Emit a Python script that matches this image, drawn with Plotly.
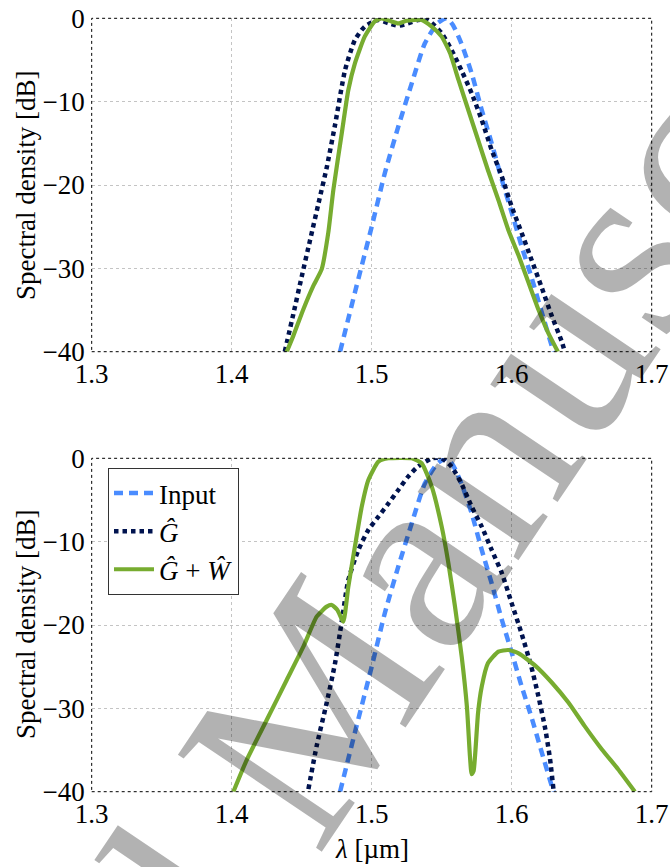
import plotly.graph_objects as go

# ---------------- data ----------------
x_ticks = [1.3, 1.4, 1.5, 1.6, 1.7]
y_ticks = [0, -10, -20, -30, -40]

# Input spectrum (same in both panels)
input_wl = [1.4774, 1.488, 1.500, 1.5095, 1.519, 1.5286, 1.538, 1.547, 1.5536,
            1.558, 1.564, 1.5714, 1.5786, 1.5857, 1.593, 1.600, 1.607, 1.614,
            1.621, 1.6286, 1.630]
input_db = [-40, -32.9, -25, -18.5, -13, -7.8, -3, -0.6, 0,
            -0.8, -3, -6.6, -11, -15, -19.4, -23.3, -27.3, -31,
            -35, -39.3, -40]

# Top panel
top_g_wl = [1.4379, 1.444, 1.450, 1.456, 1.462, 1.468, 1.4738, 1.481, 1.488,
            1.495, 1.5045, 1.512, 1.519, 1.526, 1.533, 1.540, 1.550, 1.557,
            1.564, 1.5714, 1.5786, 1.5857, 1.593, 1.600, 1.607, 1.614, 1.621,
            1.6286, 1.636, 1.6379]
top_g_db = [-40, -35.5, -31.0, -26.6, -22.2, -17.8, -12.8, -6.2, -2.6,
            -1.0, -0.2, -0.6, -0.9, -0.6, -0.2, -0.2, -1.8, -3.8,
            -6.2, -9, -12.2, -15.8, -19, -22.6, -25.7, -28.9, -32.1,
            -35.7, -38.9, -40]

top_gw_wl = [1.4393, 1.444, 1.4512, 1.4583, 1.4643, 1.469, 1.4726, 1.4786,
             1.4833, 1.488, 1.495, 1.502, 1.507, 1.513, 1.519, 1.525, 1.5357,
             1.5429, 1.55, 1.556, 1.562, 1.569, 1.576, 1.583, 1.5905, 1.5976,
             1.605, 1.612, 1.619, 1.626, 1.633]
top_gw_db = [-40, -38.1, -34.9, -32.1, -30.1, -25.7, -20.6, -13.8,
             -8.6, -5.4, -2.2, -0.4, 0, -0.3, -0.6, -0.3, -0.2,
             -1, -2.2, -4.2, -7.4, -11, -14.6, -18.2, -21.8, -25.4,
             -28.5, -31.7, -34.9, -37.7, -40]

# Bottom panel
bot_g_wl = [1.4548, 1.4607, 1.4679, 1.4738, 1.4786, 1.4833, 1.4905, 1.4976,
            1.5048, 1.512, 1.519, 1.526, 1.533, 1.543, 1.550, 1.557, 1.564,
            1.5714, 1.5786, 1.5857, 1.593, 1.600, 1.607, 1.614, 1.619, 1.624,
            1.6274, 1.6298]
bot_g_db = [-39.7, -34.5, -29.3, -24.6, -19.6, -14.6, -11, -8.6,
            -7, -5.4, -3.8, -2.2, -1, 0, 0, -1, -3,
            -5.8, -8.2, -11, -13.8, -17.4, -21, -25, -28.5, -32.5,
            -36.1, -39.7]

bot_gw_wl = [1.4012, 1.4107, 1.425, 1.4393, 1.4512, 1.4607, 1.4679, 1.4715,
             1.4755, 1.4797, 1.4833, 1.488, 1.4929, 1.4976, 1.5048, 1.512,
             1.5286, 1.5357, 1.5429, 1.55, 1.5548, 1.5595, 1.5643, 1.568,
             1.5702, 1.5714, 1.5728, 1.574, 1.576, 1.5786, 1.583, 1.5905,
             1.5976, 1.605, 1.617, 1.6286, 1.6405, 1.652, 1.6643, 1.676, 1.688]
bot_gw_db = [-40, -36.2, -31.4, -26.6, -22.6, -19, -17.8, -17.6,
             -18.2, -19.6, -15.4, -10.6, -5.8, -2.6, -0.4, 0,
             0, -0.6, -3.4, -8.2, -12.6, -17.8, -23.8, -29.8,
             -35.8, -37.9, -37.5, -35.3, -30.5, -27.4, -24.6, -23.2,
             -23, -23.4, -24.9, -26.9, -29.3, -32.1, -34.9, -37.3, -40]

legend_names = ["Input", "<i>Ĝ</i>", "<i>Ĝ</i> + <i>Ŵ</i>"]
y_title = "Spectral density [dB]"
x_title = "<i>λ</i> [µm]"
watermark = "Accepted Manuscript"

# ---------------- styling ----------------
C_IN = "#4a8cff"
C_G = "#00134f"
C_GW = "#77ac30"
FONT = "Liberation Serif"
FS = 27
W, H = 670, 867

XD = [91.7 / W, 651.7 / W]
TOP_D = [1 - 351.7 / H, 1 - 18.3 / H]
BOT_D = [1 - 791.7 / H, 1 - 458.3 / H]

fig = go.Figure()

def add_traces(xa, ya, g_wl, g_db, gw_wl, gw_db, show):
    fig.add_trace(go.Scatter(x=input_wl, y=input_db, xaxis=xa, yaxis=ya, mode="lines",
                             name=legend_names[0], legendgroup="a", showlegend=show,
                             line=dict(color=C_IN, width=4.5, dash="9px,6px", shape="spline", smoothing=0.6)))
    fig.add_trace(go.Scatter(x=g_wl, y=g_db, xaxis=xa, yaxis=ya, mode="lines",
                             name=legend_names[1], legendgroup="b", showlegend=show,
                             line=dict(color=C_G, width=4.5, dash="4.5px,4px", shape="spline", smoothing=0.6)))
    fig.add_trace(go.Scatter(x=gw_wl, y=gw_db, xaxis=xa, yaxis=ya, mode="lines",
                             name=legend_names[2], legendgroup="c", showlegend=show,
                             line=dict(color=C_GW, width=4.2, shape="spline", smoothing=0.5)))

add_traces("x", "y", top_g_wl, top_g_db, top_gw_wl, top_gw_db, False)
add_traces("x2", "y2", bot_g_wl, bot_g_db, bot_gw_wl, bot_gw_db, True)

axis_common = dict(showgrid=True, gridcolor="#c4c4c4", griddash="dot", gridwidth=1,
                   zeroline=False, showline=False, ticks="", automargin=False,
                   tickfont=dict(family=FONT, size=FS, color="black"))

fig.update_layout(
    template="none",
    width=W, height=H,
    margin=dict(l=0, r=0, t=0, b=0, pad=0),
    plot_bgcolor="white", paper_bgcolor="white",
    xaxis=dict(domain=XD, range=[1.3, 1.7], tickvals=x_ticks, tickformat=".1f",
               anchor="y", ticklabelstandoff=3, **axis_common),
    yaxis=dict(domain=TOP_D, range=[-40, 0], tickvals=y_ticks,
               anchor="x", ticklabelstandoff=6, **axis_common),
    xaxis2=dict(domain=XD, range=[1.3, 1.7], tickvals=x_ticks, tickformat=".1f",
                anchor="y2", ticklabelstandoff=3, **axis_common),
    yaxis2=dict(domain=BOT_D, range=[-40, 0], tickvals=y_ticks,
                anchor="x2", ticklabelstandoff=6, **axis_common),
    legend=dict(x=108 / W, y=1 - 468 / H, xanchor="left", yanchor="top",
                bgcolor="white", bordercolor="#333333", borderwidth=1,
                font=dict(family=FONT, size=FS, color="black"),
                tracegroupgap=0, itemwidth=40),
    showlegend=True,
)

for xr, yr in [("x", "y"), ("x2", "y2")]:
    fig.add_shape(type="rect", xref=f"{xr} domain", yref=f"{yr} domain",
                  x0=0, x1=1, y0=0, y1=1, line=dict(color="black", width=1, dash="dot"),
                  layer="above")

# axis titles
for yc in [186, 625]:
    fig.add_annotation(text=y_title, xref="paper", yref="paper", x=26 / W, y=1 - yc / H,
                       xanchor="center", yanchor="middle",
                       textangle=-90, showarrow=False,
                       font=dict(family=FONT, size=FS, color="black"))
fig.add_annotation(text=x_title, xref="paper", yref="paper", x=372 / W, y=1 - 849 / H,
                   xanchor="center", yanchor="middle",
                   showarrow=False, font=dict(family=FONT, size=FS, color="black"))

# watermark
fig.add_annotation(text=watermark, xref="paper", yref="paper", x=283 / W, y=1 - 750 / H,
                   xanchor="center", yanchor="middle",
                   textangle=-56, showarrow=False,
                   font=dict(family=FONT, size=265, color="rgba(0,0,0,0.3)"))

fig.write_html("out.html", config={"displayModeBar": False},
               post_script="document.body.style.margin='0';document.body.style.padding='0';")
